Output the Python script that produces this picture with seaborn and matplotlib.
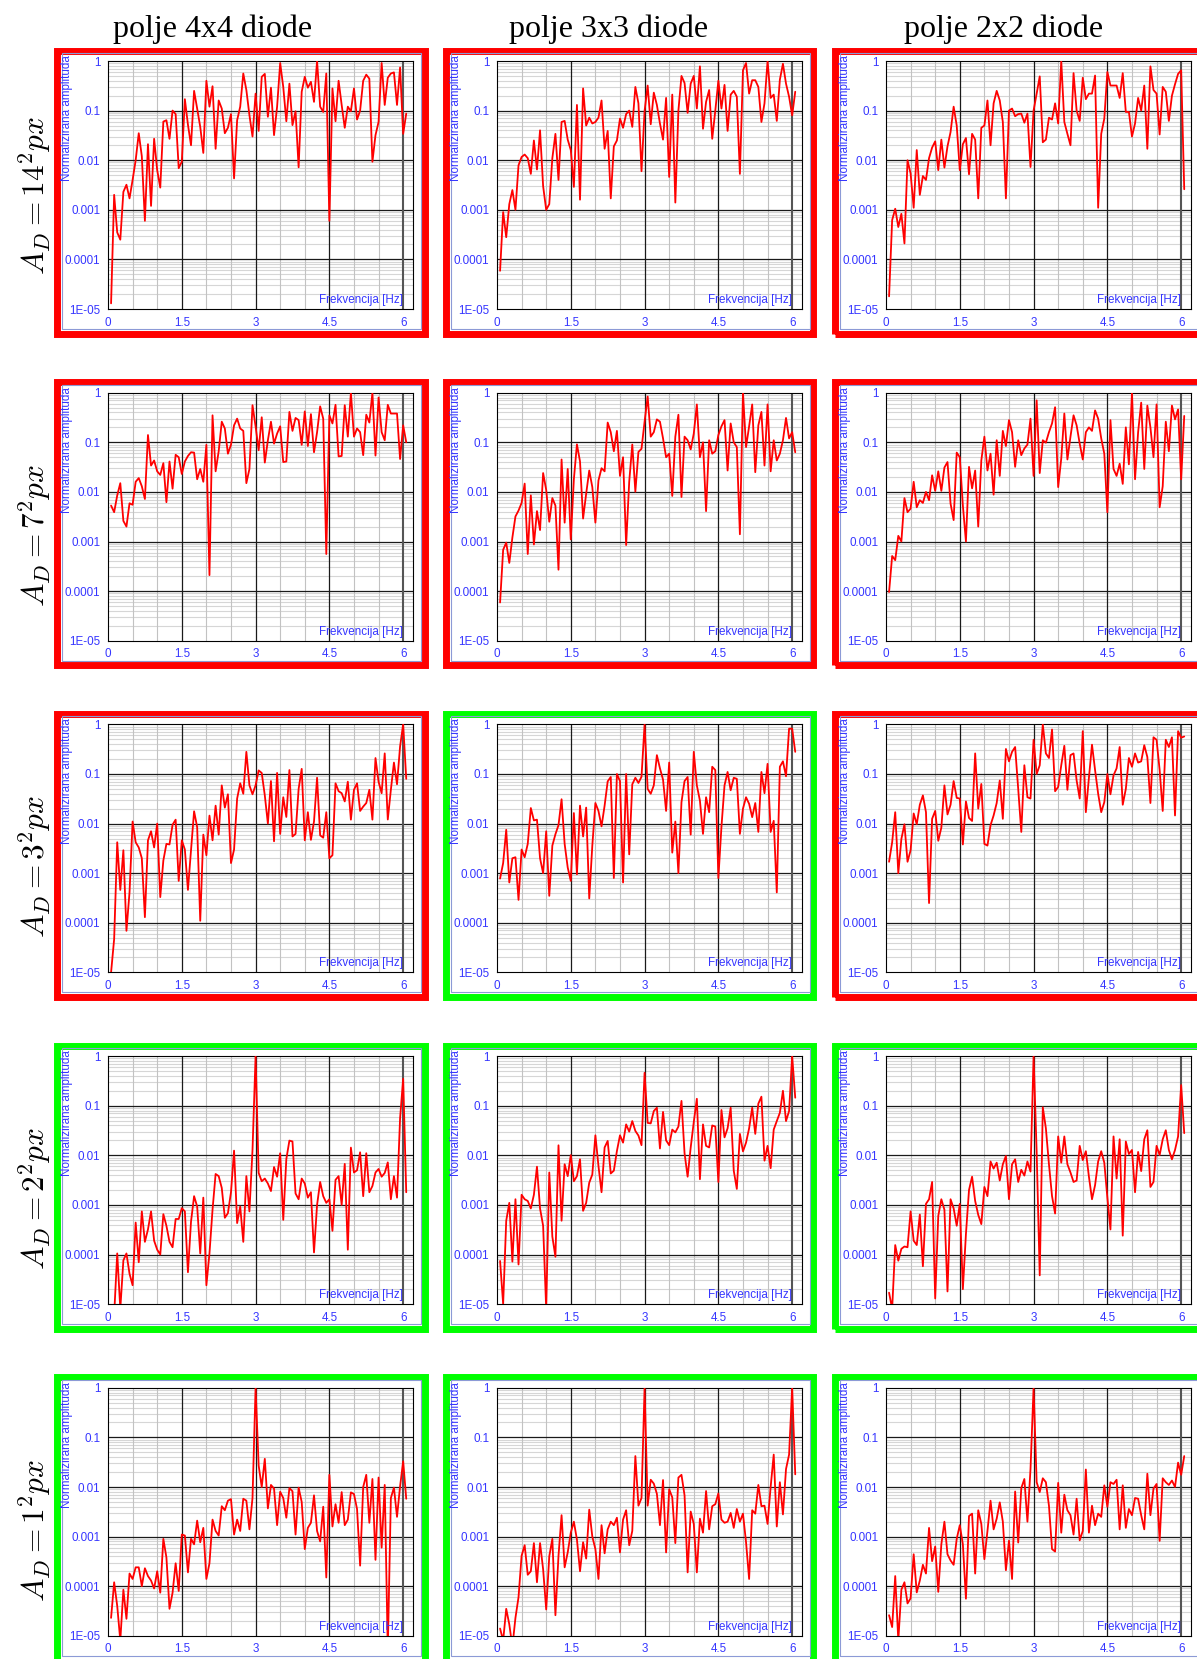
import numpy as np
import matplotlib
matplotlib.use('Agg')
import matplotlib.pyplot as plt
import seaborn as sns
from matplotlib.patches import Rectangle
from matplotlib.ticker import FixedLocator, FixedFormatter, LogLocator, NullFormatter

# Spectrum values (normalised amplitude), one list per panel.
# Frequency step is 1/16 Hz, first point at 0.0625 Hz.
r1c1 = [1.3e-5, 0.002, 3.5e-4, 2.5e-4, 0.0023, 0.0032, 0.0017, 0.004, 0.01, 0.035,
        0.012, 6e-4, 0.021, 0.0012, 0.027, 0.0063, 0.0028, 0.06, 0.064, 0.027,
        0.1, 0.085, 0.0069, 0.0093, 0.17, 0.052, 0.02, 0.25, 0.11, 0.047,
        0.014, 0.4, 0.12, 0.31, 0.017, 0.16, 0.11, 0.035, 0.045, 0.085,
        0.0043, 0.064, 0.12, 0.56, 0.26, 0.081, 0.03, 0.22, 0.039, 0.48,
        0.55, 0.075, 0.29, 0.032, 0.12, 0.91, 0.3, 0.061, 0.35, 0.051,
        0.097, 0.0072, 0.24, 0.48, 0.29, 0.38, 0.15, 1.0, 0.12, 0.094,
        0.56, 6e-4, 0.28, 0.061, 0.4, 0.13, 0.045, 0.12, 0.097, 0.28,
        0.066, 0.1, 0.4, 0.53, 0.44, 0.0093, 0.032, 0.059, 0.91, 0.13,
        0.46, 0.56, 0.59, 0.13, 0.74, 0.034, 0.087]
r1c2 = [5.9e-5, 9e-4, 2.8e-4, 0.0013, 0.0025, 0.001, 0.0079, 0.0116, 0.013, 0.011,
        0.0053, 0.025, 0.0065, 0.04, 0.003, 0.001, 0.0013, 0.011, 0.034, 0.004,
        0.059, 0.062, 0.026, 0.016, 0.0029, 0.13, 0.0016, 0.28, 0.05, 0.072,
        0.055, 0.059, 0.072, 0.16, 0.017, 0.039, 0.0017, 0.019, 0.025, 0.069,
        0.045, 0.085, 0.1, 0.047, 0.3, 0.14, 0.006, 0.098, 0.32, 0.053,
        0.23, 0.13, 0.055, 0.026, 0.18, 0.0046, 0.21, 0.0014, 0.1, 0.5,
        0.36, 0.09, 0.35, 0.5, 0.11, 0.78, 0.043, 0.15, 0.26, 0.027,
        0.1, 0.4, 0.11, 0.33, 0.039, 0.21, 0.25, 0.19, 0.0053, 0.65,
        0.91, 0.22, 0.41, 0.41, 0.3, 0.059, 0.14, 1.0, 0.18, 0.21,
        0.062, 0.42, 0.88, 0.35, 0.19, 0.08, 0.24]
r1c3 = [1.8e-5, 6.2e-4, 0.00105, 4.5e-4, 8.3e-4, 2.1e-4, 0.01, 0.0054, 0.0011, 0.016,
        0.002, 0.0048, 0.004, 0.011, 0.018, 0.024, 0.0063, 0.026, 0.0071, 0.019,
        0.037, 0.12, 0.05, 0.0063, 0.021, 0.028, 0.0052, 0.034, 0.026, 0.0017,
        0.045, 0.05, 0.16, 0.02, 0.14, 0.25, 0.16, 0.059, 0.0017, 0.1,
        0.11, 0.077, 0.085, 0.087, 0.057, 0.087, 0.0073, 0.1, 0.22, 0.49,
        0.023, 0.026, 0.072, 0.066, 0.14, 0.055, 1.0, 0.059, 0.034, 0.02,
        0.57, 0.1, 0.062, 0.46, 0.17, 0.22, 0.22, 0.51, 0.0011, 0.034,
        0.069, 0.6, 0.32, 0.32, 0.32, 0.18, 0.57, 0.094, 0.094, 0.03,
        0.055, 0.18, 0.1, 0.32, 0.017, 0.78, 0.26, 0.22, 0.033, 0.3,
        0.24, 0.062, 0.2, 0.34, 0.55, 0.65, 0.0026]

r2c1 = [0.0053, 0.0039, 0.0085, 0.015, 0.0026, 0.002, 0.0059, 0.0055, 0.016, 0.019,
        0.013, 0.0072, 0.14, 0.034, 0.043, 0.026, 0.022, 0.038, 0.0062, 0.041,
        0.0116, 0.056, 0.05, 0.023, 0.041, 0.053, 0.063, 0.062, 0.018, 0.029,
        0.016, 0.089, 2.1e-4, 0.35, 0.026, 0.066, 0.26, 0.19, 0.059, 0.089,
        0.22, 0.3, 0.19, 0.17, 0.015, 0.029, 0.56, 0.21, 0.069, 0.32,
        0.039, 0.11, 0.26, 0.094, 0.15, 0.21, 0.04, 0.041, 0.41, 0.17,
        0.31, 0.28, 0.089, 0.42, 0.084, 0.37, 0.063, 0.16, 0.53, 0.3,
        5.6e-4, 0.35, 0.24, 0.57, 0.052, 0.053, 0.56, 0.13, 1.0, 0.13,
        0.19, 0.16, 0.055, 0.36, 0.25, 1.0, 0.054, 0.8, 0.16, 0.11,
        0.57, 0.38, 0.38, 0.38, 0.046, 0.22, 0.1]
r2c2 = [5.9e-5, 6.8e-4, 9.5e-4, 3.7e-4, 0.0012, 0.0032, 0.0042, 0.006, 0.0147, 5.6e-4,
        0.0085, 8.7e-4, 0.0041, 0.0017, 0.024, 0.011, 0.0025, 0.0075, 0.0053, 2.7e-4,
        0.045, 0.0024, 0.029, 0.0011, 0.018, 0.091, 0.041, 0.0029, 0.0092, 0.027,
        0.0125, 0.0024, 0.017, 0.03, 0.026, 0.25, 0.16, 0.066, 0.17,
        0.021, 0.05, 8.5e-4, 0.016, 0.09, 0.0101, 0.064, 0.074, 0.26, 0.84,
        0.13, 0.16, 0.29, 0.26, 0.12, 0.05, 0.059, 0.0083, 0.13, 0.36,
        0.0079, 0.13, 0.11, 0.072, 0.15, 0.58, 0.05, 0.1, 0.0041, 0.11,
        0.059, 0.066, 0.14, 0.21, 0.28, 0.027, 0.24, 0.1, 0.08,
        0.0014, 1.0, 0.08, 0.21, 0.58, 0.025, 0.22, 0.41, 0.034, 0.58,
        0.026, 0.11, 0.043, 0.059, 0.11, 0.31, 0.12, 0.16, 0.063]
r2c3 = [9.6e-5, 5.1e-4, 4.2e-4, 0.0013, 0.001, 0.0075, 0.0039, 0.0046, 0.016, 0.0049,
        0.0068, 0.006, 0.01, 0.0068, 0.0216, 0.0105, 0.026, 0.0105, 0.031,
        0.04, 0.0058, 0.0027, 0.062, 0.05, 0.0053, 0.001, 0.032, 0.0118, 0.027,
        0.002, 0.043, 0.13, 0.027, 0.059, 0.0088, 0.11, 0.021, 0.17, 0.084,
        0.28, 0.16, 0.032, 0.11, 0.055, 0.075, 0.09, 0.3, 0.021, 0.7,
        0.024, 0.11, 0.098, 0.16, 0.24, 0.51, 0.0125, 0.047, 0.38,
        0.045, 0.13, 0.35, 0.22, 0.094, 0.045, 0.16, 0.2, 0.17, 0.44,
        0.3, 0.12, 0.059, 0.0039, 0.28, 0.029, 0.021, 0.037, 0.0145, 0.2,
        0.036, 1.0, 0.018, 0.16, 0.63, 0.029, 0.55, 0.2, 0.05, 0.58,
        0.0049, 0.013, 0.26, 0.066, 0.55, 0.29, 0.46, 0.018, 0.34]

r3c1 = [1e-5, 4.7e-5, 0.0042, 4.6e-4, 0.0029, 6.9e-5, 4.1e-4, 0.011, 0.0042,
        0.0033, 0.002, 1.3e-4, 0.0046, 0.007, 0.0033, 0.01, 3.3e-4, 0.0018, 0.0039,
        0.0038, 0.0095, 0.012, 7e-4, 0.0046, 0.003, 4.6e-4, 0.0029, 0.0177, 0.0085,
        1.1e-4, 0.006, 0.0023, 0.0145, 0.0046, 0.023, 0.006, 0.059, 0.021, 0.039,
        0.0016, 0.003, 0.032, 0.065, 0.04, 0.28, 0.059, 0.039, 0.059, 0.118,
        0.105, 0.037, 0.01, 0.072, 0.0044, 0.105, 0.0062, 0.034, 0.0136, 0.12,
        0.0055, 0.0062, 0.05, 0.127, 0.0046, 0.017, 0.0047, 0.011, 0.084, 0.0058,
        0.0052, 0.017, 0.002, 0.0023, 0.065, 0.045, 0.041, 0.028, 0.07,
        0.012, 0.048, 0.065, 0.018, 0.022, 0.026, 0.048, 0.012, 0.21, 0.07,
        0.041, 0.26, 0.0121, 0.048, 0.17, 0.062, 0.36, 1.0, 0.08]
r3c2 = [7.8e-4, 0.0016, 0.0075, 6.5e-4, 0.002, 0.0021, 2.9e-4, 0.003, 0.0021,
        0.0039, 0.0206, 0.0116, 0.012, 0.002, 0.001, 0.007, 3.5e-4, 0.0036, 0.0061,
        0.0093, 0.031, 0.0039, 0.0013, 7e-4, 0.0163, 9.5e-4, 0.023, 0.0055, 0.021,
        3.1e-4, 0.0036, 0.026, 0.018, 0.0088, 0.023, 0.071, 0.087, 8e-4, 0.1,
        0.072, 6.5e-4, 0.1, 0.0024, 0.062, 0.084, 0.066, 0.088, 1.0, 0.05,
        0.04, 0.059, 0.24, 0.13, 0.077, 0.018, 0.17, 0.0026, 0.011, 0.001,
        0.027, 0.072, 0.087, 0.006, 0.28, 0.059, 0.029, 0.0062, 0.034,
        0.017, 0.14, 0.12, 8e-4, 0.0086, 0.059, 0.11, 0.047, 0.084, 0.08,
        0.0062, 0.02, 0.034, 0.025, 0.0135, 0.026, 0.0068, 0.11, 0.041, 0.16,
        0.0068, 0.0114, 4.1e-4, 0.14, 0.18, 0.09, 0.82, 0.82, 0.28]
r3c3 = [0.0017, 0.0042, 0.017, 0.001, 0.0049, 0.0097, 0.0017, 0.0029, 0.016, 0.0097,
        0.024, 0.037, 0.017, 2.5e-4, 0.0125, 0.018, 0.0045, 0.0083, 0.059, 0.0153,
        0.024, 0.072, 0.033, 0.032, 0.0038, 0.028, 0.013, 0.0113, 0.26,
        0.02, 0.063, 0.0039, 0.0036, 0.0093, 0.0146, 0.026, 0.074, 0.0125, 0.32,
        0.18, 0.28, 0.35, 0.05, 0.0068, 0.15, 0.034, 0.032, 0.49, 0.1,
        0.15, 1.0, 0.26, 0.21, 0.79, 0.045, 0.055, 0.15, 0.37, 0.048,
        0.24, 0.26, 0.074, 0.032, 0.73, 0.017, 0.084, 0.39, 0.12,
        0.04, 0.017, 0.027, 0.1, 0.039, 0.094, 0.13, 0.35, 0.024, 0.05,
        0.21, 0.14, 0.26, 0.17, 0.18, 0.38, 0.22, 0.026, 0.55, 0.49,
        0.12, 0.018, 0.49, 0.35, 0.55, 0.0146, 0.73, 0.54, 0.57]

r4c1 = [5e-6, 6e-6, 1.05e-4, 8e-6, 7.6e-5, 1.05e-4, 4.1e-5, 2.4e-5, 4.4e-4,
        7e-5, 7.4e-4, 1.8e-4, 3.2e-4, 7.4e-4, 1.9e-4, 1.25e-4, 1e-4, 6.5e-4, 3.8e-4,
        1.8e-4, 1.4e-4, 5.2e-4, 5.2e-4, 8.6e-4, 7.4e-4, 4.4e-5, 4.6e-4, 0.0015, 9.3e-4,
        1.05e-4, 0.0014, 2.4e-5, 1.05e-4, 8e-4, 0.0042, 0.0038, 0.0022, 5.5e-4, 6.8e-4,
        0.0018, 0.0124, 4.3e-4, 9.3e-4, 1.8e-4, 0.0038, 7.4e-4, 0.0128, 1.0, 0.0044,
        0.003, 0.0034, 0.0027, 0.0019, 0.0058, 0.0037, 0.011, 5e-4, 0.0084, 0.0198,
        0.019, 0.0017, 0.0013, 0.0034, 0.0027, 0.0014, 0.0018, 1.1e-4, 0.001, 0.0029,
        0.0015, 0.0011, 0.0013, 3e-4, 0.0032, 0.0038, 0.001, 0.0067, 1.25e-4,
        0.0143, 0.0045, 0.005, 0.0115, 0.0015, 0.011, 0.0018, 0.0024, 0.0045, 0.0053,
        0.0037, 0.0044, 0.0072, 0.0013, 0.0038, 0.0014, 0.056, 0.35, 0.0018]
r4c2 = [7.4e-5, 1e-5, 4.8e-4, 0.0011, 7.2e-5, 0.0013, 6.3e-5, 0.0016, 0.0013, 0.0012,
        8.5e-4, 0.0016, 0.0059, 8.5e-4, 3.8e-4, 8e-6, 0.0045, 2.3e-4, 9e-5, 0.0159,
        4.8e-4, 0.0066, 0.0038, 0.0101, 0.003, 0.0038, 0.0083, 7.6e-4, 0.0011,
        0.0028, 0.0041, 0.0253, 0.0061, 0.0018, 0.0144, 0.0195, 0.0043, 0.0049, 0.0122,
        0.0253, 0.018, 0.042, 0.03, 0.049, 0.031, 0.025, 0.016, 0.46, 0.045,
        0.044, 0.078, 0.091, 0.0137, 0.075, 0.02, 0.016, 0.033, 0.029, 0.038,
        0.125, 0.011, 0.0037, 0.0144, 0.047, 0.138, 0.0033, 0.042, 0.0155, 0.0144,
        0.04, 0.038, 0.0029, 0.082, 0.023, 0.035, 0.091, 0.0049, 0.0021,
        0.027, 0.012, 0.018, 0.035, 0.091, 0.027, 0.11, 0.152, 0.0078, 0.0155,
        0.0055, 0.033, 0.049, 0.072, 0.2, 0.049, 0.078, 1.0, 0.145]
r4c3 = [1.7e-5, 8e-6, 1.55e-4, 7.5e-5, 1.3e-4, 1.45e-4, 1.4e-4, 7.4e-4, 1.9e-4,
        1.55e-4, 6.4e-4, 5.8e-5, 0.00105, 0.0013, 0.0029, 1.3e-5, 6e-4, 0.0013, 8e-4,
        1.8e-5, 0.0013, 8.5e-4, 3.8e-4, 0.00105, 2e-5, 2.6e-4, 0.002, 0.0037, 0.0012,
        6.3e-4, 4.1e-4, 0.0023, 0.0015, 0.0075, 0.0054, 0.0071, 0.0031, 0.0066, 0.0097,
        0.0013, 0.0066, 0.0083, 0.0029, 0.0051, 0.0039, 0.0075, 0.0047, 1.0, 0.0117,
        3.8e-5, 0.093, 0.035, 0.0066, 0.0015, 6.7e-4, 0.024, 0.0071, 0.024, 0.0066,
        0.0045, 0.0029, 0.0031, 0.0155, 0.008, 0.0121, 0.0037, 0.0013, 0.0025, 0.0075,
        0.0121, 0.0071, 0.0014, 3.2e-4, 0.024, 0.0034, 0.021, 2.4e-4, 0.019,
        0.0106, 0.0128, 0.0018, 0.0117, 0.0048, 0.021, 0.032, 0.0023, 0.0029, 0.0155,
        0.0101, 0.021, 0.032, 0.0128, 0.0083, 0.0128, 0.024, 0.26, 0.028]

r5c1 = [2.3e-5, 1.2e-4, 4e-5, 8e-6, 8.5e-5, 2.2e-5, 1.8e-4, 1.4e-4, 2.4e-4,
        2.4e-4, 1e-4, 2.3e-4, 1.6e-4, 1.3e-4, 9e-5, 2e-4, 7.4e-5, 9e-4, 3.8e-4,
        3.5e-5, 7.4e-5, 2.9e-4, 8e-5, 0.0011, 0.00105, 1.9e-4, 9e-4, 7e-4, 0.0021,
        7.7e-4, 0.0015, 1.4e-4, 2.9e-4, 0.0022, 0.0013, 0.00105, 0.0041, 0.0034, 0.0053,
        0.0057, 0.0011, 0.0022, 0.0013, 0.0058, 0.0053, 0.0014, 0.006, 1.0, 0.027,
        0.01, 0.037, 0.0037, 0.011, 0.0093, 0.0017, 0.008, 0.006, 0.0024,
        0.0095, 0.0082, 0.0011, 0.0097, 0.005, 5.6e-4, 0.0015, 0.0019, 0.0068, 0.0013,
        8e-4, 0.004, 1.5e-4, 0.0176, 0.0016, 0.0045, 0.0019, 0.0079, 0.0017, 0.0022,
        0.0078, 0.0072, 0.0036, 2.6e-4, 0.01, 0.0176, 0.0019, 0.0145, 3.4e-4, 0.0155,
        6e-4, 0.011, 5e-6, 0.006, 0.0097, 0.0025, 0.0103, 0.033, 0.0058]
r5c2 = [1.4e-5, 8e-6, 3.5e-5, 1.7e-5, 6e-6, 2.3e-5, 6e-5, 4.1e-4, 6.7e-4, 1.7e-4,
        2e-4, 7.4e-4, 1.2e-4, 7.4e-4, 2.2e-4, 3.4e-5, 4e-4, 9e-4, 2.6e-5, 4.1e-4,
        0.0027, 2.4e-4, 4.8e-4, 0.0012, 0.002, 8.7e-4, 2e-4, 7.7e-4, 3.6e-4, 0.0035,
        0.001, 5.6e-4, 1.4e-4, 0.0017, 4.6e-4, 0.0014, 0.002,
        0.0017, 0.0024, 4.8e-4, 0.0022, 0.0034, 6.7e-4, 0.0013, 0.042, 0.0042, 0.006,
        1.0, 0.0042, 0.014, 0.0117, 0.0073, 0.0017, 0.0138, 4.8e-4, 0.009, 0.0062, 7.4e-4,
        0.0155, 0.0176, 0.0068, 1.9e-4, 0.0032, 0.0018,
        1.9e-4, 0.0023, 0.0012, 0.0083, 0.0014, 0.0041, 0.0045, 0.0074, 0.0022, 0.0019, 0.002,
        0.003, 0.0015, 0.0036, 0.002, 0.0029, 7.7e-4, 1.4e-4, 0.0034, 0.0029, 0.011, 0.0041,
        0.0042, 0.0018, 0.01, 0.045, 0.0016, 0.0125, 0.0028, 0.023, 0.045, 1.0, 0.018]
r5c3 = [2.6e-5, 1.5e-5, 1.6e-4, 8e-6, 8.5e-5, 1.2e-4, 4.5e-5, 5.7e-5, 4.4e-4, 7.5e-5,
        1.3e-4, 2.7e-4, 1.8e-4, 0.0015, 3.2e-4, 6.3e-4, 7.7e-5, 7e-4, 0.002, 4.4e-4,
        3.3e-4, 2.7e-4, 9e-4, 0.0017, 7e-4, 5.6e-5, 0.0026, 0.0029, 1.8e-4,
        0.0034, 0.0018, 3.5e-4, 0.0013, 0.0053, 0.0014, 0.0023, 0.0049, 0.002, 2.1e-4,
        8.3e-4, 1.4e-4, 0.0081, 7.6e-4, 0.0095, 0.0145, 0.002, 0.023, 1.0, 0.0125,
        0.0079, 0.015, 0.0125, 0.0042, 5.6e-4, 5e-4, 0.0121, 0.0012, 0.007, 0.0034,
        0.0027, 0.0011, 0.0058, 8.4e-4, 0.0013, 0.0225, 0.0012, 0.0042, 0.0017, 0.0029,
        0.0025, 0.0108, 0.004, 0.0125, 0.0115, 0.014, 0.0014, 0.0108, 0.0015, 0.0036,
        0.0027, 0.006, 0.0058, 0.0027, 0.0014, 0.0185, 0.0027, 0.0093, 0.0115,
        8.2e-4, 0.015, 0.0125, 0.011, 0.0135, 0.01, 0.031, 0.0176, 0.042]

series = [[r1c1, r1c2, r1c3],
          [r2c1, r2c2, r2c3],
          [r3c1, r3c2, r3c3],
          [r4c1, r4c2, r4c3],
          [r5c1, r5c2, r5c3]]

col_titles = ['polje 4x4 diode', 'polje 3x3 diode', 'polje 2x2 diode']
row_labels = [r'$A_D = 14^2 px$', r'$A_D = 7^2 px$', r'$A_D = 3^2 px$',
              r'$A_D = 2^2 px$', r'$A_D = 1^2 px$']
# 'r' = red frame, 'g' = green frame
frame_codes = [['r', 'r', 'r'],
               ['r', 'r', 'r'],
               ['r', 'g', 'r'],
               ['g', 'g', 'g'],
               ['g', 'g', 'g']]
x_ticks = [0, 1.5, 3, 4.5, 6]
x_tick_labels = ['0', '1.5', '3', '4.5', '6']
x_minor = [0.5, 1.0, 2.0, 2.5, 3.5, 4.0, 5.0, 5.5]
y_ticks = [1e-5, 1e-4, 1e-3, 1e-2, 1e-1, 1]
y_tick_labels = ['1E-05', '0.0001', '0.001', '0.01', '0.1', '1']
freq_step = 0.0625

sns.set_style('white')
plt.rcParams['font.family'] = ['Liberation Sans', 'DejaVu Sans']
plt.rcParams['mathtext.fontset'] = 'cm'

W, H = 1197, 1659
fig = plt.figure(figsize=(W / 100, H / 100), dpi=100)
fig.patch.set_facecolor('white')

BLUE = '#3636ff'
FRAME = {'r': '#ff0000', 'g': '#00ff00'}
AX_W, AX_H = 305, 248
y_minor = [d * s for d in y_ticks[:-1] for s in range(2, 10)]


def fig_box(x0, y0, x1, y1):
    # pixel box (top-left origin) -> figure fraction rect
    return [x0 / W, 1 - y1 / H, (x1 - x0) / W, (y1 - y0) / H]


for r in range(5):
    for c in range(3):
        axl = 108 + 389 * c
        axt = 61 + 331.7 * r

        # outer coloured frame and thin blue border
        fx = fig_box(axl - 51.5, axt - 10.5, axl + 316.5, axt + 272.5)
        fig.add_artist(Rectangle((fx[0], fx[1]), fx[2], fx[3], transform=fig.transFigure,
                                 fill=False, ec=FRAME[frame_codes[r][c]], lw=5.0, zorder=0))
        bx = fig_box(axl - 46, axt - 8, axl + 313, axt + 268)
        fig.add_artist(Rectangle((bx[0], bx[1]), bx[2], bx[3], transform=fig.transFigure,
                                 fill=False, ec='#8c9ad6', lw=0.8, zorder=0))

        ax = fig.add_axes(fig_box(axl, axt, axl + AX_W, axt + AX_H))
        ax.set_yscale('log')

        # grid drawn by hand so the dark major lines sit above the light minor ones
        for yv in y_minor:
            ax.axhline(yv, color='#d6d6d6', lw=0.8, zorder=1)
        for xv in x_minor:
            ax.axvline(xv, color='#c2c2c2', lw=0.8, zorder=1)
        for yv in y_ticks[1:-1]:
            ax.axhline(yv, color='#1a1a1a', lw=0.9, zorder=2)
        for xv in x_ticks[1:]:
            ax.axvline(xv, color='#1a1a1a' if xv < 6 else '#555555',
                       lw=0.9 if xv < 6 else 1.5, zorder=2)

        vals = series[r][c]
        freq = freq_step * np.arange(1, len(vals) + 1)
        sns.lineplot(x=freq, y=vals, ax=ax, color='#ff0000', lw=1.3,
                     estimator=None, sort=False, zorder=5)

        ax.set_xlim(0, 6.2)
        ax.set_ylim(1e-5, 1)
        ax.xaxis.set_major_locator(FixedLocator(x_ticks))
        ax.xaxis.set_major_formatter(FixedFormatter(x_tick_labels))
        ax.xaxis.set_minor_locator(FixedLocator(x_minor))
        ax.yaxis.set_major_locator(FixedLocator(y_ticks))
        ax.yaxis.set_major_formatter(FixedFormatter(y_tick_labels))
        ax.yaxis.set_minor_locator(LogLocator(base=10, subs=np.arange(2, 10)))
        ax.yaxis.set_minor_formatter(NullFormatter())
        ax.grid(False)

        ax.tick_params(which='major', direction='out', length=4, width=0.8, color='black',
                       labelsize=8.4, labelcolor=BLUE, pad=1.5)
        ax.tick_params(which='minor', direction='out', length=2.5, width=0.6, color='black')
        for sp in ax.spines.values():
            sp.set_color('black')
            sp.set_linewidth(0.8)
            sp.set_zorder(3)
        ax.set_xlabel('')
        ax.set_ylabel('')

        ax.text(-41 / AX_W, 1 + 6 / AX_H, 'Normalizirana amplituda', transform=ax.transAxes,
                rotation=90, ha='center', va='top', color=BLUE, fontsize=8.4)
        ax.text(6.0, 9 / AX_H, 'Frekvencija [Hz]', transform=ax.get_xaxis_transform(),
                ha='right', va='center', color=BLUE, fontsize=8.4, zorder=6)

    # row label, anchored at its lower end like the reference
    fig.text(35 / W, 1 - (61 + 331.7 * r + 214) / H, row_labels[r], rotation=90,
             ha='center', va='bottom', fontsize=22.5, color='black')

for c in range(3):
    fig.text((213 + 395.5 * c) / W, 1 - 29 / H, col_titles[c], ha='center', va='center',
             fontsize=23, family='Liberation Serif', color='black')

fig.savefig('out.png', dpi=100)
